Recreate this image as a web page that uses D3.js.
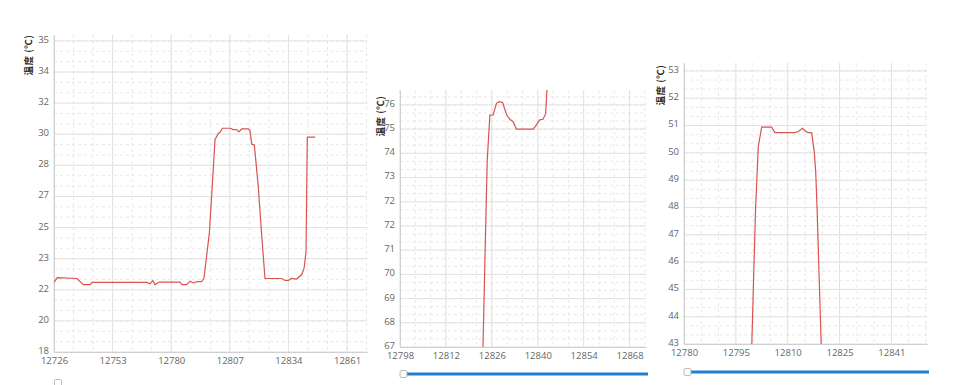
<!DOCTYPE html>
<html lang="zh">
<head>
  <meta charset="UTF-8">
  <title>温度</title>
  <script src="https://d3js.org/d3.v7.min.js"></script>
  <style>
    body, html {
      margin: 0;
      padding: 0;
      background-color: #fff;
      overflow: hidden;
    }
    .tick-label {
      font-family: 'Open Sans', 'DejaVu Sans', sans-serif;
      font-size: 9.5px;
      fill: #666;
    }
    .y-title {
      font-family: 'Noto Sans CJK SC', sans-serif;
      font-size: 9.5px;
      font-weight: bold;
      fill: #333;
    }
  </style>
</head>
<body>
  <svg id="chart"></svg>
  <script>
    // panel 1
    const leftXTicks = [12726, 12753, 12780, 12807, 12834, 12861];
    const leftYLabels = ["18", "20", "22", "23", "25", "27", "28", "30", "32", "34", "35"];
    const leftX = [12726.1, 12727.5, 12736.5, 12739.5, 12742.6, 12743.5, 12768.7, 12770.2, 12771.5, 12772.5, 12774.5,
      12784, 12785, 12787.1, 12788.7, 12790.2, 12791.9, 12794, 12795.1, 12797.6, 12800.2, 12801.7, 12802.5, 12803.6,
      12807.1, 12808.6, 12810.2, 12811.1, 12812.5, 12815.5, 12816.3, 12817.1, 12818.3, 12820.1, 12821.7, 12823.2,
      12830.9, 12832.4, 12834, 12835.5, 12837.8, 12840.1, 12841.2, 12842.1, 12842.7, 12846.3];
    const leftY = [21.90, 22.15, 22.10, 21.76, 21.76, 21.88, 21.88, 21.80, 21.99, 21.76, 21.90,
      21.90, 21.76, 21.76, 21.95, 21.85, 21.92, 21.92, 22.12, 24.67, 29.86, 30.19, 30.25, 30.48,
      30.48, 30.40, 30.40, 30.28, 30.44, 30.44, 30.35, 29.59, 29.55, 27.24, 24.5, 22.10,
      22.10, 21.99, 21.99, 22.10, 22.07, 22.32, 22.66, 23.58, 29.98, 29.98];

    // panel 2
    const midXTicks = [12798, 12812, 12826, 12840, 12854, 12868];
    const midYStart = 67, midYStep = 0.91;
    const midX = [12823.0, 12823.3, 12824.1, 12824.6, 12825.4, 12826.4, 12827.4, 12828.2, 12829.3, 12830.0,
      12830.7, 12831.5, 12832.5, 12833.5, 12838.6, 12839.6, 12840.6, 12841.6, 12842.4, 12842.8, 12843.1];
    const midY = [66.0, 67.0, 71.41, 74.03, 75.72, 75.72, 76.16, 76.22, 76.19, 75.91,
      75.69, 75.56, 75.47, 75.19, 75.19, 75.35, 75.54, 75.56, 75.76, 76.66, 77.6];

    // panel 3
    const rightXStart = 12780, rightXStep = 15.15;
    const rightYLabels = d3.range(43, 54);
    const rightX = [12799.7, 12800.9, 12801.7, 12802.7, 12805.6, 12806.6, 12812.4, 12813.4, 12814.6, 12815.6,
      12816.3, 12817.3, 12818.1, 12818.5, 12818.9, 12820.2];
    const rightY = [42.5, 47.91, 50.23, 50.94, 50.94, 50.74, 50.74, 50.78, 50.90, 50.78,
      50.74, 50.74, 49.99, 49.25, 47.91, 42.5];

    const width = 957, height = 385;
    const svg = d3.select("#chart").attr("width", width).attr("height", height);

    const defs = svg.append("defs");

    function panel(o) {
      const x = d3.scaleLinear().domain(o.xDomain).range([o.left, o.right]);
      const y = d3.scaleLinear().domain(o.yDomain).range([o.bottom, o.top]);
      const g = svg.append("g");

      // minor grid (dashed), 2 between each major
      const xMinor = d3.range(o.xDomain[0], o.xDomain[1] + 1e-6, o.xStep / 3);
      const yMinor = d3.range(o.yDomain[0], o.yDomain[1] + 1e-6, o.yStep / 3);
      g.selectAll(".vminor").data(xMinor).enter().append("line")
        .attr("x1", d => x(d)).attr("x2", d => x(d))
        .attr("y1", o.top).attr("y2", o.bottom)
        .style("stroke", "#e8e8e8").style("stroke-dasharray", "3,3");
      g.selectAll(".hminor").data(yMinor).enter().append("line")
        .attr("y1", d => y(d)).attr("y2", d => y(d))
        .attr("x1", o.left).attr("x2", o.right)
        .style("stroke", "#e8e8e8").style("stroke-dasharray", "3,3");

      // major grid
      g.selectAll(".vmajor").data(o.xTicks).enter().append("line")
        .attr("x1", d => x(d)).attr("x2", d => x(d))
        .attr("y1", o.top).attr("y2", o.bottom)
        .style("stroke", "#e2e2e2");
      g.selectAll(".hmajor").data(o.yTicks).enter().append("line")
        .attr("y1", d => y(d)).attr("y2", d => y(d))
        .attr("x1", o.left).attr("x2", o.right)
        .style("stroke", "#e2e2e2");

      // axes
      const xAxis = d3.axisBottom(x).tickValues(o.xTicks).tickSize(0).tickPadding(5)
        .tickFormat(o.xFormat);
      const yAxis = d3.axisLeft(y).tickValues(o.yTicks).tickSize(0).tickPadding(5)
        .tickFormat(o.yFormat);

      const gx = g.append("g").attr("transform", "translate(0," + o.bottom + ")").call(xAxis);
      const gy = g.append("g").attr("transform", "translate(" + o.left + ",0)").call(yAxis);
      [gx, gy].forEach(a => {
        a.select(".domain").style("stroke", "#d0d0d0");
        a.selectAll("text").attr("class", "tick-label").attr("fill", null).style("font-family", null).style("font-size", null);
      });
      gy.selectAll("text").attr("dy", "0.15em");

      // y title
      g.append("text")
        .attr("class", "y-title")
        .attr("transform", "translate(" + o.titleX + "," + o.titleY + ") rotate(-90)")
        .attr("text-anchor", "middle")
        .style("letter-spacing", "0.5px")
        .text("温度 (℃)");

      // line
      const clipId = "clip" + o.id;
      defs.append("clipPath").attr("id", clipId).append("rect")
        .attr("x", o.left).attr("y", o.top)
        .attr("width", o.right - o.left).attr("height", o.bottom - o.top);

      const pts = o.xs.map((v, i) => [v, o.ys[i]]);
      g.append("path")
        .datum(pts)
        .attr("clip-path", "url(#" + clipId + ")")
        .attr("fill", "none")
        .attr("stroke", "#d9534f")
        .attr("stroke-width", 1.2)
        .attr("d", d3.line().x(d => x(d[0])).y(d => y(d[1])));

      // slider
      if (o.slider) {
        g.append("rect")
          .attr("x", o.left + 6).attr("y", o.sliderY - 1.5)
          .attr("width", o.right - o.left - 4).attr("height", 3)
          .attr("fill", "#1e7fd3");
        g.append("rect")
          .attr("x", o.left).attr("y", o.sliderY - 3.5)
          .attr("width", 7).attr("height", 7).attr("rx", 1.5)
          .attr("fill", "#fafafa").attr("stroke", "#a8a8a8").attr("stroke-width", 0.8);
      }
    }

    panel({
      id: 1, left: 54, right: 367, top: 35, bottom: 352,
      xDomain: [12726, 12870.2], xStep: 27, xTicks: leftXTicks, xFormat: d3.format("d"),
      yDomain: [18, 35.68], yStep: 1.735,
      yTicks: d3.range(leftYLabels.length).map(i => 18 + i * 1.735),
      yFormat: (d, i) => leftYLabels[i],
      titleX: 32, titleY: 55,
      xs: leftX, ys: leftY, slider: false
    });

    panel({
      id: 2, left: 400, right: 646, top: 90, bottom: 347,
      xDomain: [12798, 12873], xStep: 14, xTicks: midXTicks, xFormat: d3.format("d"),
      yDomain: [midYStart, 76.66], yStep: midYStep,
      yTicks: d3.range(11).map(i => midYStart + i * midYStep),
      yFormat: d3.format(".0f"),
      titleX: 384, titleY: 116,
      xs: midX, ys: midY, slider: true, sliderY: 374
    });

    panel({
      id: 3, left: 684, right: 927, top: 63, bottom: 344,
      xDomain: [rightXStart, 12851], xStep: rightXStep,
      xTicks: d3.range(5).map(i => rightXStart + i * rightXStep), xFormat: d3.format(".0f"),
      yDomain: [43, 53.29], yStep: 1,
      yTicks: rightYLabels, yFormat: d3.format("d"),
      titleX: 664, titleY: 85,
      xs: rightX, ys: rightY, slider: true, sliderY: 372
    });

    // small checkbox stub under the first chart
    svg.append("rect")
      .attr("x", 54.5).attr("y", 379.5).attr("width", 7).attr("height", 8).attr("rx", 1)
      .attr("fill", "#fff").attr("stroke", "#bbb");
  </script>
</body>
</html>
